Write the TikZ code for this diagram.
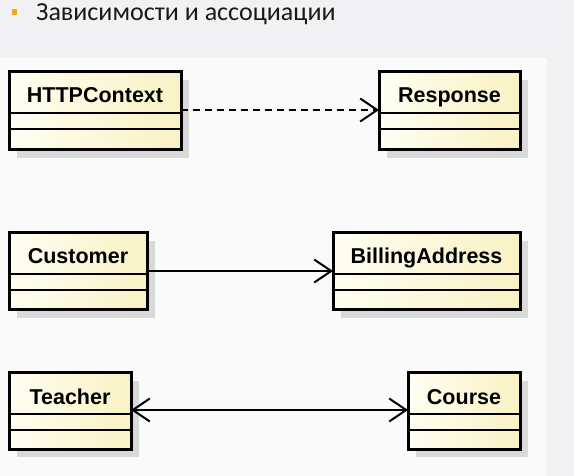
\documentclass[tikz,border=0pt]{standalone}
\usepackage{fontspec}
\setmainfont{Liberation Sans}
\newfontfamily\titlefont{Carlito}
\usetikzlibrary{arrows.meta,shadows,calc}
\definecolor{pagebg}{HTML}{F2F2F4}
\definecolor{diagbg}{HTML}{FAFAFA}
\definecolor{bulletc}{HTML}{F2A81D}
\definecolor{clsleft}{HTML}{FFFEF2}
\definecolor{clsright}{HTML}{F9F2C4}
\definecolor{shadowc}{HTML}{D9D9D9}
\tikzset{
  cls/.style={draw=black, line width=3pt, outer sep=0pt, inner sep=0pt,
    left color=clsleft, right color=clsright,
    drop shadow={shadow xshift=8pt, shadow yshift=-8pt, fill=shadowc, opacity=1}},
  divline/.style={draw=black, line width=1.8pt},
  clsname/.style={anchor=base, inner sep=0pt, font=\bfseries\fontsize{21.5}{25}\selectfont},
  conn/.style={draw=black, line width=2pt},
  opentip/.style={-{Straight Barb[length=17pt,width=23pt]}},
  depline/.style={conn, dash pattern=on 7pt off 5pt}
}
\begin{document}
\begin{tikzpicture}[x=1pt,y=-1pt]
\useasboundingbox (0,0) rectangle (574,476);
\fill[pagebg] (0,0) rectangle (574,476);
\fill[diagbg] (0,58) rectangle (547,476);
% title
\fill[bulletc] (12,9) rectangle (17,15);
\node[anchor=base west, inner sep=0pt, font=\titlefont\fontsize{26}{30}\selectfont, text=black!90] (title) at (36,21) {Зависимости и ассоциации};
% classes
\node[cls, minimum width=172, minimum height=78] (http) at (95,111) {};
\node[cls, minimum width=141, minimum height=78] (resp) at (449.5,111) {};
\node[cls, minimum width=138, minimum height=77] (cust) at (78,271.5) {};
\node[cls, minimum width=187, minimum height=77] (bill) at (426.5,271.5) {};
\node[cls, minimum width=122, minimum height=76] (teach) at (70,411) {};
\node[cls, minimum width=112, minimum height=76] (course) at (464,411) {};
% compartments
\foreach \c in {http,resp,cust,bill,teach,course}{
  \draw[divline] ([yshift=-41pt]\c.north west) -- ([yshift=-41pt]\c.north east);
  \draw[divline] ([yshift=-57pt]\c.north west) -- ([yshift=-57pt]\c.north east);
}
% names
\node[clsname] (httpn) at ([yshift=-31pt]http.north) {HTTPContext};
\node[clsname] (respn) at ([yshift=-31pt]resp.north) {Response};
\node[clsname] (custn) at ([yshift=-31pt]cust.north) {Customer};
\node[clsname] (billn) at ([yshift=-31pt]bill.north) {BillingAddress};
\node[clsname] (teachn) at ([yshift=-31pt]teach.north) {Teacher};
\node[clsname] (coursen) at ([yshift=-31pt]course.north) {Course};
% connectors
\draw[depline, opentip] ([yshift=-38pt]http.north east) -- ([yshift=-38pt]resp.north west);
\draw[conn, opentip] ([yshift=-38pt]cust.north east) -- ([yshift=-38pt]bill.north west);
\draw[conn, {Straight Barb[length=17pt,width=23pt]}-{Straight Barb[length=17pt,width=23pt]}] ([yshift=-37pt]teach.north east) -- ([yshift=-37pt]course.north west);
\end{tikzpicture}
\end{document}
